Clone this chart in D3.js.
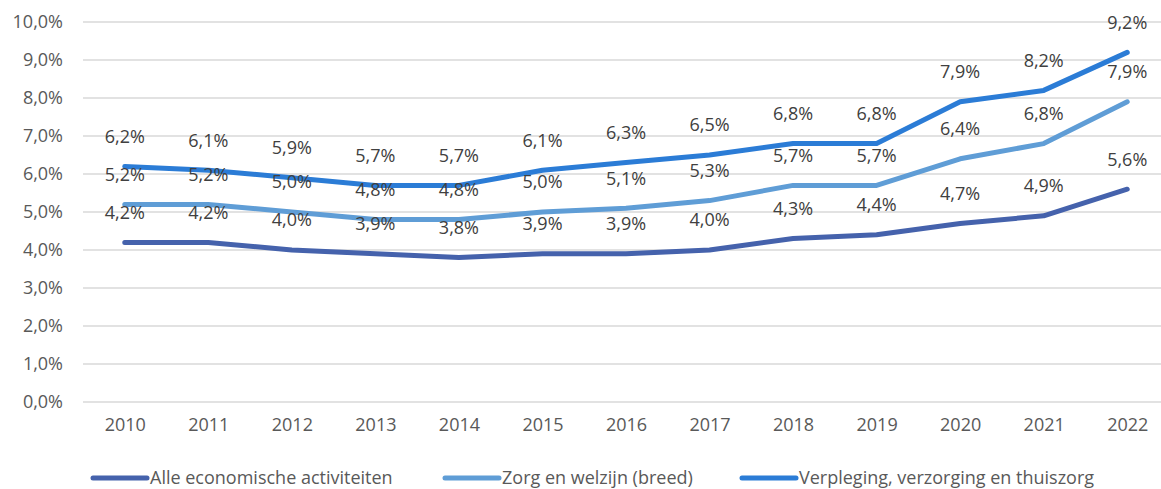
<!DOCTYPE html>
<html>
<head>
<meta charset="utf-8">
<script src="https://cdn.jsdelivr.net/npm/d3@7"></script>
<style>
  body { margin: 0; background: #fff; }
  svg text { font-family: "Open Sans", sans-serif; }
</style>
</head>
<body>
<svg id="chart" width="1161" height="489"></svg>
<script>
// Data
const years = ["2010", "2011", "2012", "2013", "2014", "2015", "2016", "2017", "2018", "2019", "2020", "2021", "2022"];
const alleEconomisch = [4.2, 4.2, 4.0, 3.9, 3.8, 3.9, 3.9, 4.0, 4.3, 4.4, 4.7, 4.9, 5.6];
const zorgWelzijn = [5.2, 5.2, 5.0, 4.8, 4.8, 5.0, 5.1, 5.3, 5.7, 5.7, 6.4, 6.8, 7.9];
const verpleging = [6.2, 6.1, 5.9, 5.7, 5.7, 6.1, 6.3, 6.5, 6.8, 6.8, 7.9, 8.2, 9.2];
const yTicks = [0, 1, 2, 3, 4, 5, 6, 7, 8, 9, 10];

const series = [
  { name: "Alle economische activiteiten", values: alleEconomisch, color: "#4562ac" },
  { name: "Zorg en welzijn (breed)", values: zorgWelzijn, color: "#5f9dd6" },
  { name: "Verpleging, verzorging en thuiszorg", values: verpleging, color: "#2b7cd6" }
];

const fmt = v => v.toFixed(1).replace(".", ",") + "%";

const svg = d3.select("#chart");

// Scales
const x = d3.scalePoint().domain(years).range([83, 1169]).padding(0.5);
const y = d3.scaleLinear().domain([0, 10]).range([402, 22]);

// Gridlines
svg.append("g")
  .selectAll("line")
  .data(yTicks)
  .join("line")
    .attr("x1", 83)
    .attr("x2", 1161)
    .attr("y1", d => y(d))
    .attr("y2", d => y(d))
    .attr("stroke", "#d9d9d9")
    .attr("stroke-width", 1.5);

// Y axis labels
const yAxis = d3.axisLeft(y).tickValues(yTicks).tickSize(0).tickPadding(0)
  .tickFormat(d => d.toFixed(1).replace(".", ",") + "%");
svg.append("g")
  .attr("transform", "translate(63,0)")
  .call(yAxis)
  .call(g => g.select(".domain").remove())
  .call(g => g.selectAll("text")
    .attr("fill", "#595959")
    .attr("font-size", "18px")
    .attr("font-family", "Open Sans, sans-serif"));

// X axis labels
const xAxis = d3.axisBottom(x).tickSize(0).tickPadding(0);
svg.append("g")
  .attr("transform", "translate(0,418)")
  .call(xAxis)
  .call(g => g.select(".domain").remove())
  .call(g => g.selectAll("text")
    .attr("fill", "#595959")
    .attr("font-size", "18px")
    .attr("font-family", "Open Sans, sans-serif"));

// Lines
const line = d3.line()
  .x((d, i) => x(years[i]))
  .y(d => y(d));

series.forEach(s => {
  svg.append("path")
    .datum(s.values)
    .attr("fill", "none")
    .attr("stroke", s.color)
    .attr("stroke-width", 5)
    .attr("stroke-linecap", "round")
    .attr("stroke-linejoin", "round")
    .attr("d", line);
});

// Data labels
series.forEach(s => {
  svg.append("g")
    .selectAll("text")
    .data(s.values)
    .join("text")
      .attr("x", (d, i) => x(years[i]))
      .attr("y", d => y(d) - 30)
      .attr("dy", "0.35em")
      .attr("text-anchor", "middle")
      .attr("font-size", "18px")
      .attr("fill", "#404040")
      .text(d => fmt(d));
});

// Legend
const legendX = [93, 445, 742];
const legend = svg.append("g");
series.forEach((s, i) => {
  legend.append("line")
    .attr("x1", legendX[i])
    .attr("x2", legendX[i] + 54)
    .attr("y1", 478)
    .attr("y2", 478)
    .attr("stroke", s.color)
    .attr("stroke-width", 5)
    .attr("stroke-linecap", "round");
  legend.append("text")
    .attr("x", legendX[i] + 57)
    .attr("y", 478)
    .attr("dy", "0.35em")
    .attr("font-size", "18px")
    .attr("fill", "#595959")
    .text(s.name);
});
</script>
</body>
</html>
